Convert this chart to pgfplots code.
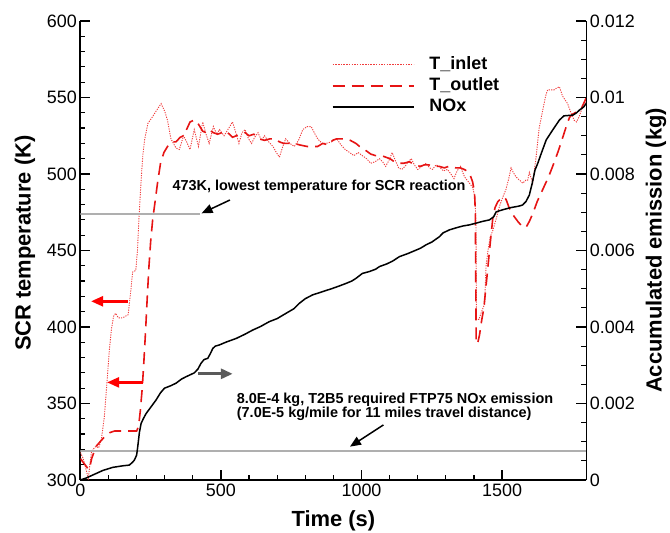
\documentclass[border=0pt]{standalone}
\usepackage{pgfplots}
\pgfplotsset{compat=1.18}
\usepackage{fontspec}
\setmainfont{Liberation Sans}
\usetikzlibrary{arrows.meta}
\definecolor{inletred}{RGB}{240,60,60}
\definecolor{outletred}{RGB}{230,20,20}
\definecolor{hlgray}{RGB}{175,175,175}
\definecolor{arrgray}{RGB}{90,90,90}
\pgfplotsset{
  common/.style={
    scale only axis, width=506bp, height=459bp,
    xmin=0, xmax=1800,
    tick align=inside,
    major tick length=10bp, minor tick length=5bp,
    tick style={black, line width=1.2bp},
    axis line style={line width=1.8bp},
    tick label style={font=\fontsize{18}{21}\selectfont},
    /pgf/number format/assume math mode=true,
    /pgf/number format/1000 sep={},
    label style={font=\fontsize{22}{25}\selectfont\bfseries},
  }
}
\begin{document}
\begin{tikzpicture}
\useasboundingbox (-80.4bp,-53bp) rectangle (589.6bp,480bp);
\begin{axis}[common,
  axis x line*=bottom, axis y line*=left,
  ymin=300, ymax=600,
  xtick={0,500,1000,1500},
  minor x tick num=4,
  ytick={300,350,400,450,500,550,600},
  minor y tick num=4,
  xlabel={Time (s)}, ylabel={SCR temperature (K)},
  xlabel style={at={(axis description cs:0.5,-0.0893)}, anchor=center},
  ylabel style={at={(axis description cs:-0.1095,0.516)}, anchor=center},
]
\addplot[color=inletred, line width=0.9bp, dash pattern=on 1.2bp off 1.2bp] coordinates {
(0,318) (10,314) (20,307) (28,301) (35,312) (40,319) (55,322) (65,321) (75,327)
(85,341) (95,365) (103,385) (110,398) (118,407) (125,409) (135,406) (150,406)
(170,408) (180,425) (186,436) (197,437) (203,450) (208,470) (216,496) (222,512)
(228,522) (240,533) (255,537) (269,541) (287,546) (300,541) (310,535) (322,523)
(340,517) (352,516) (367,525) (378,521) (390,516) (405,529) (420,518) (435,534)
(447,526) (458,520) (473,531) (485,526) (495,529) (511,525) (528,530) (541,534)
(553,527) (564,520) (575,527) (586,529) (598,523) (609,520) (620,524) (632,527)
(644,522) (655,525) (670,521) (685,518) (697,514) (708,511) (720,518) (730,523)
(745,520) (761,518) (776,522) (791,529) (806,531) (821,531) (832,527) (844,523)
(860,520) (874,520) (893,521) (912,523) (927,519) (942,516) (958,514) (973,512)
(988,514) (1003,512) (1018,510) (1033,507) (1048,508) (1064,510) (1075,508)
(1086,505) (1098,509) (1109,514) (1120,509) (1132,504) (1143,503) (1155,505)
(1166,508) (1177,510) (1188,506) (1200,503) (1215,505) (1230,507) (1242,504)
(1253,503) (1265,506) (1276,505) (1291,502) (1306,503) (1318,500) (1329,497)
(1340,502) (1352,505) (1360,501) (1367,498) (1384,494) (1396,491) (1403,485)
(1407,470) (1409,405) (1418,405) (1427,410) (1438,415) (1443,440) (1450,450)
(1458,459) (1467,463) (1478,470) (1491,479) (1505,486) (1514,490) (1525,498)
(1532,504) (1540,501) (1550,498) (1562,496) (1573,494) (1585,496) (1591,496)
(1597,501) (1609,494) (1621,511) (1632,530) (1645,542) (1655,551) (1662,555)
(1674,555) (1685,555) (1693,556) (1704,557) (1715,551) (1733,546) (1745,540)
(1757,535) (1765,534) (1775,538) (1785,543) (1792,546) (1800,548)
};
\addplot[color=outletred, line width=1.6bp, dash pattern=on 12bp off 7bp] coordinates {
(0,314) (12,311) (25,308) (32,307) (40,314) (56,322) (70,325) (85,328) (105,331)
(121,332) (150,332) (175,332) (200,332) (207,335) (213,345) (220,360) (226,378)
(232,398) (238,420) (244,440) (250,456) (257,470) (265,481) (275,495) (285,507)
(297,514) (310,518) (325,521) (340,521) (355,524) (367,525) (380,530) (390,534)
(402,535) (412,535) (425,531) (435,528) (447,527) (458,529) (473,527) (488,526)
(503,527) (518,528) (530,526) (541,524) (555,525) (570,526) (586,527) (600,525)
(617,526) (635,523) (655,522) (675,523) (693,523) (708,521) (723,520) (740,520)
(761,520) (780,519) (806,518) (825,518) (844,518) (862,520) (882,519) (897,522)
(912,523) (927,523) (942,523) (960,522) (980,520) (993,518) (1003,517) (1018,515)
(1033,513) (1050,512) (1071,512) (1086,511) (1101,510) (1117,508) (1132,507)
(1150,507) (1170,508) (1190,506) (1208,505) (1225,506) (1238,506) (1255,505)
(1276,505) (1295,504) (1310,505) (1321,505) (1335,504) (1352,504) (1365,503)
(1375,502) (1385,500) (1395,495) (1402,488) (1405,475) (1406,440) (1408,389)
(1414,390) (1420,395) (1428,405) (1435,412) (1442,425) (1449,438) (1458,455)
(1467,471) (1475,478) (1485,482) (1497,484) (1508,485) (1515,483) (1525,478)
(1540,473) (1556,469) (1570,466) (1585,465) (1597,469) (1609,474) (1625,482)
(1645,490) (1665,498) (1680,505) (1700,515) (1716,524) (1730,532) (1740,537)
(1750,539) (1760,540) (1770,541) (1780,542) (1790,546) (1800,550)
};
\addplot[color=hlgray, line width=2bp] coordinates {(0,474) (425,474)};
\node[font=\fontsize{14.5}{16}\selectfont\bfseries] at (axis cs:849,491.7) {473K, lowest temperature for SCR reaction};
\draw[black, line width=1.5bp, -{Triangle[length=11bp,width=9bp]}] (axis cs:532,483) -- (axis cs:431,474.3);
\node[font=\fontsize{14.5}{12.5}\selectfont\bfseries, anchor=west, align=left, inner sep=0pt] at (axis cs:556,347.7) {8.0E-4 kg, T2B5 required FTP75 NOx emission\\(7.0E-5 kg/mile for 11 miles travel distance)};
\draw[black, line width=1.5bp, -{Triangle[length=11bp,width=9bp]}] (axis cs:1078,336) -- (axis cs:959,321.8);
\draw[red, line width=2.5bp, -{Triangle[length=12bp,width=10bp]}] (axis cs:168,416.8) -- (axis cs:38,416.8);
\draw[red, line width=2.5bp, -{Triangle[length=12bp,width=10bp]}] (axis cs:222,363.8) -- (axis cs:95,363.8);
\draw[arrgray, line width=3bp, -{Triangle[length=12bp,width=10bp]}] (axis cs:418,369.4) -- (axis cs:542,369.4);
\end{axis}
\begin{axis}[common,
  axis x line=none, axis y line*=right,
  ymin=0, ymax=0.012,
  ytick={0,0.002,0.004,0.006,0.008,0.01,0.012},
  minor y tick num=3,
  scaled y ticks=false,
  yticklabel style={/pgf/number format/fixed, /pgf/number format/precision=3},
  ylabel={Accumulated emission (kg)},
  ylabel style={at={(axis description cs:1.1375,0.5)}, anchor=center},
  legend style={at={(axis description cs:0.4966,0.927)}, anchor=north west, draw=none, fill=none,
    inner sep=0pt, row sep=0pt,
    nodes={inner sep=1bp, text height=14bp, text depth=5bp},
    font=\fontsize{18}{21}\selectfont\bfseries},
  legend cell align=left,
  legend image code/.code={\draw[#1] (0bp,0.3bp) -- (81bp,0.3bp); \path (0bp,0bp) (95bp,0bp);},
]
\addlegendimage{color=inletred, line width=1.1bp, dash pattern=on 1.5bp off 1.2bp}
\addlegendentry{T\_inlet}
\addlegendimage{color=outletred, line width=1.6bp, dash pattern=on 12bp off 7bp}
\addlegendentry{T\_outlet}
\addplot[color=hlgray, line width=2bp, forget plot] coordinates {(0,0.00076) (1800,0.00076)};
\addplot[color=black, line width=1.5bp] coordinates {
(0,0) (20,0.00005) (50,0.00015) (80,0.00025) (115,0.00033) (150,0.00037)
(174,0.00039) (185,0.00046) (192,0.00052) (200,0.00065) (204,0.00087) (210,0.00125)
(216,0.00148) (225,0.00162) (234,0.00174) (250,0.0019) (269,0.00209) (285,0.00228)
(299,0.0024) (320,0.00246) (340,0.00253) (360,0.00264) (376,0.0027) (405,0.0028)
(418,0.0029) (429,0.00305) (440,0.00315) (453,0.00318) (462,0.0033) (471,0.00344)
(480,0.0035) (494,0.00353) (520,0.00361) (554,0.0037) (585,0.00381) (613,0.00392)
(640,0.00401) (672,0.00414) (700,0.00422) (732,0.00436) (760,0.00448) (779,0.00462)
(800,0.00474) (826,0.00484) (860,0.00492) (897,0.00501) (920,0.00507) (945,0.00514)
(965,0.0052) (980,0.00527) (1003,0.0054) (1028,0.00545) (1050,0.00551) (1064,0.00558)
(1090,0.00565) (1110,0.00572) (1135,0.00584) (1165,0.00592) (1194,0.00601)
(1210,0.00606) (1230,0.00615) (1250,0.00622) (1277,0.00636) (1290,0.00646)
(1313,0.00654) (1340,0.0066) (1360,0.00664) (1384,0.00667) (1410,0.00672)
(1430,0.00676) (1455,0.0068) (1470,0.00688) (1479,0.00701) (1500,0.00706)
(1530,0.00712) (1560,0.00716) (1573,0.00719) (1585,0.00728) (1597,0.00745)
(1607,0.00775) (1617,0.0081) (1627,0.00828) (1640,0.00855) (1657,0.00889)
(1680,0.00915) (1704,0.00941) (1720,0.00952) (1752,0.00954) (1765,0.0096)
(1775,0.00967) (1790,0.00975) (1800,0.00985)
};
\addlegendentry{NOx}
\end{axis}
\end{tikzpicture}
\end{document}
